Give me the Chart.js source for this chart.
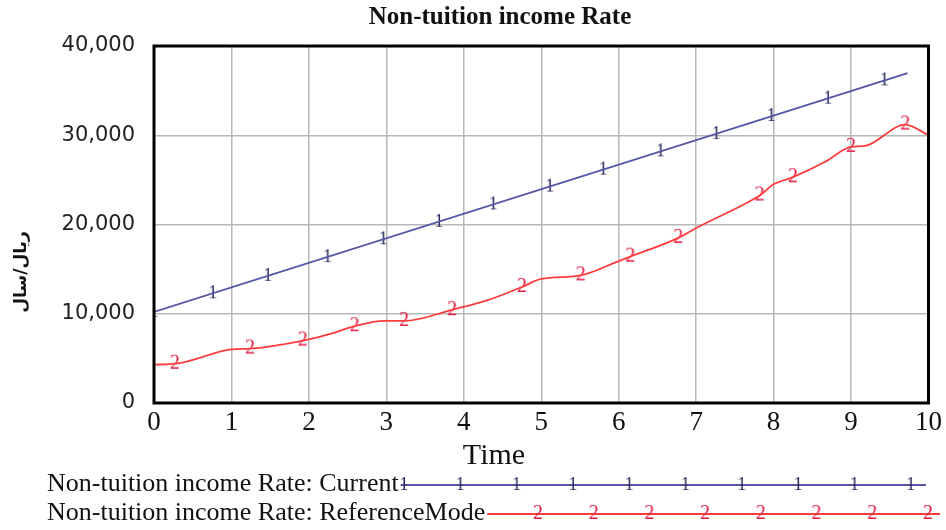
<!DOCTYPE html>
<html>
<head>
<meta charset="utf-8">
<script src="https://cdn.jsdelivr.net/npm/chart.js@4.4.1/dist/chart.umd.min.js"></script>
<style>
  html, body { margin: 0; padding: 0; background: #fff; }
  canvas { display: block; }
</style>
</head>
<body>
<canvas id="rateChart" width="946" height="530" style="width:946px;height:530px"></canvas>
<script>
// Datos (Time en años, valores en ریال/سال)
const chartTitle = "Non-tuition income Rate";
const xAxisTitle = "Time";
const yAxisTitle = "ریال/سال";

const currentLabel = "Non-tuition income Rate: Current";
const currentTimes = [0, 9.73];
const currentValues = [10200, 36970];
const currentMarkTimes = [0, 0.76, 1.47, 2.24, 2.96, 3.68, 4.38, 5.11, 5.80, 6.54, 7.26, 7.97, 8.70, 9.43];
const currentMarkValues = [10200, 12300, 14250, 16350, 18350, 20300, 22250, 24250, 26150, 28200, 30150, 32150, 34100, 36150];

const refLabel = "Non-tuition income Rate: ReferenceMode";
const refTimes = [0, 0.28, 1.0, 1.24, 1.93, 2.3, 2.59, 2.97, 3.23, 3.87, 4.3, 4.75, 5.0, 5.51, 6.0, 6.15, 6.77, 7.0, 7.67, 7.83, 8.0, 8.25, 8.66, 9.0, 9.18, 9.7, 10];
const refValues = [4300, 4400, 6000, 6100, 7000, 7800, 8600, 9200, 9200, 10500, 11500, 13000, 13900, 14300, 15900, 16400, 18500, 19600, 22500, 23300, 24500, 25300, 27000, 28700, 28800, 31200, 30000];
const refMarkTimes = [0.27, 1.24, 1.92, 2.59, 3.23, 3.85, 4.75, 5.51, 6.15, 6.77, 7.82, 8.25, 9.0, 9.7];
const refMarkValues = [4400, 6100, 7000, 8600, 9200, 10400, 13000, 14300, 16400, 18500, 23250, 25300, 28700, 31200];

const xTicks = [0, 1, 2, 3, 4, 5, 6, 7, 8, 9, 10];
const yTicks = [0, 10000, 20000, 30000, 40000];

// Colores
const blueLine = "#5656a6";
const blueMark = "#26265e";
const redLine = "#ff3c3c";
const redMark = "#e3173f";

const toPoints = (xs, ys) => xs.map((x, i) => ({ x: x, y: ys[i] }));

// Marcadores tipo Vensim: dígitos "1" y "2" sobre la línea
function makeGlyph(text, color, size, bold) {
  const c = document.createElement("canvas");
  c.width = 14;
  c.height = 20;
  const g = c.getContext("2d");
  g.fillStyle = color;
  g.font = (bold ? "bold " : "") + size + "px 'Liberation Serif'";
  g.textAlign = "center";
  g.textBaseline = "middle";
  g.fillText(text, 7, 10);
  return c;
}
const glyphOne = makeGlyph("1", blueMark, 18, false);
const glyphTwo = makeGlyph("2", redMark, 20, false);

// Título, ejes, marco y leyenda
const vensimDecor = {
  id: "vensimDecor",
  afterDraw(chart) {
    const ctx = chart.ctx;
    const area = chart.chartArea;
    ctx.save();

    // Marco del área de trazado
    ctx.strokeStyle = "#000";
    ctx.lineWidth = 3;
    ctx.strokeRect(area.left, area.top, area.right - area.left, area.bottom - area.top);

    ctx.fillStyle = "#111";
    ctx.textBaseline = "middle";

    // Título
    ctx.font = "bold 25px 'Liberation Serif'";
    ctx.textAlign = "center";
    ctx.fillText(chartTitle, 500, 18);

    // Título del eje x
    ctx.font = "30px 'Liberation Serif'";
    ctx.fillText(xAxisTitle, 494, 456);

    // Título del eje y (girado)
    ctx.save();
    ctx.translate(22, 272);
    ctx.rotate(-Math.PI / 2);
    ctx.font = "bold 17px 'DejaVu Sans'";
    ctx.fillText(yAxisTitle, 0, 0);
    ctx.restore();

    // Leyenda
    const rows = [
      { label: currentLabel, y: 484, color: blueLine, glyph: glyphOne, end: 926, first: 404, step: 56.3, count: 10 },
      { label: refLabel, y: 513, color: redLine, glyph: glyphTwo, end: 940, first: 538, step: 55.7, count: 8 }
    ];
    ctx.font = "26px 'Liberation Serif'";
    ctx.textAlign = "left";
    rows.forEach(r => {
      ctx.fillStyle = "#111";
      ctx.fillText(r.label, 47, r.y);
      const start = 47 + ctx.measureText(r.label).width + 2;
      ctx.strokeStyle = r.color;
      ctx.lineWidth = 1.8;
      ctx.beginPath();
      ctx.moveTo(start, r.y + 1);
      ctx.lineTo(r.end, r.y + 1);
      ctx.stroke();
      for (let k = 0; k < r.count; k++) {
        const mx = r.first + k * r.step;
        ctx.drawImage(r.glyph, mx - r.glyph.width / 2, r.y + 1 - r.glyph.height / 2);
      }
    });
    ctx.restore();
  }
};

const ctx = document.getElementById("rateChart").getContext("2d");
new Chart(ctx, {
  type: "line",
  data: {
    datasets: [
      {
        label: currentLabel,
        data: toPoints(currentTimes, currentValues),
        borderColor: blueLine,
        borderWidth: 1.8,
        pointRadius: 0,
        tension: 0,
      },
      {
        label: refLabel,
        data: toPoints(refTimes, refValues),
        borderColor: redLine,
        borderWidth: 1.8,
        pointRadius: 0,
        cubicInterpolationMode: "monotone",
      },
      {
        label: "current marks",
        data: toPoints(currentMarkTimes, currentMarkValues),
        showLine: false,
        pointStyle: glyphOne,
        pointRadius: 7,
      },
      {
        label: "reference marks",
        data: toPoints(refMarkTimes, refMarkValues),
        showLine: false,
        pointStyle: glyphTwo,
        pointRadius: 7,
      },
    ],
  },
  options: {
    responsive: false,
    animation: false,
    layout: {
      padding: { top: 46, right: 15, left: 0, bottom: 0 },
    },
    plugins: {
      legend: { display: false },
      title: { display: false },
      tooltip: { enabled: false },
    },
    scales: {
      x: {
        type: "linear",
        min: xTicks[0],
        max: xTicks[xTicks.length - 1],
        afterBuildTicks: s => { s.ticks = xTicks.map(v => ({ value: v })); },
        afterFit: s => { s.height = 127; },
        grid: { color: "#b8b8b8", lineWidth: 1.5, drawTicks: false },
        border: { display: false },
        ticks: {
          padding: 4,
          color: "#111",
          font: { family: "'Liberation Serif'", size: 27 },
          maxRotation: 0,
        },
      },
      y: {
        min: yTicks[0],
        max: yTicks[yTicks.length - 1],
        afterBuildTicks: s => { s.ticks = yTicks.map(v => ({ value: v })); },
        afterFit: s => { s.width = 154; },
        grid: { color: "#b8b8b8", lineWidth: 1.5, drawTicks: false },
        border: { display: false },
        ticks: {
          padding: 19,
          color: "#222",
          font: { family: "'DejaVu Sans'", size: 21 },
          callback: v => v.toLocaleString("en-US"),
        },
      },
    },
  },
  plugins: [vensimDecor],
});
</script>
</body>
</html>
